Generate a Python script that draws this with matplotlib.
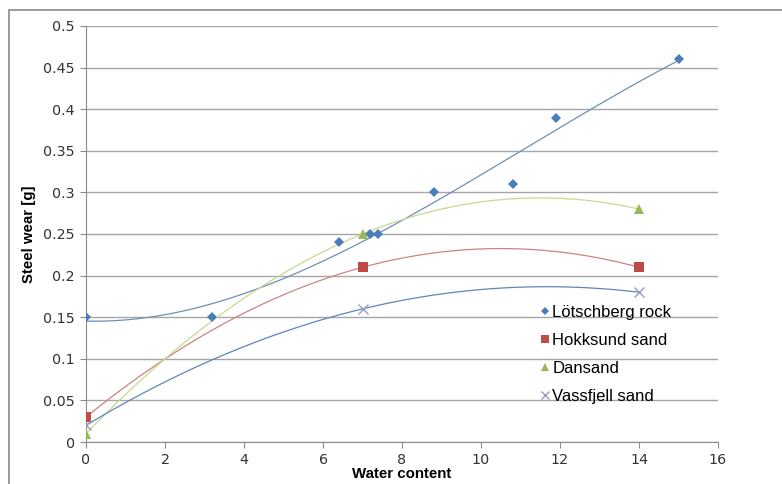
import numpy as np
import matplotlib.pyplot as plt
from matplotlib.patches import Rectangle

# measured steel wear vs water content
rock_x = [0, 3.2, 6.4, 7.2, 7.4, 8.8, 10.8, 11.9, 15]
rock_y = [0.15, 0.15, 0.24, 0.25, 0.25, 0.30, 0.31, 0.39, 0.46]
hokk_x = [0, 7, 14]
hokk_y = [0.03, 0.21, 0.21]
dan_x = [0, 7, 14]
dan_y = [0.01, 0.25, 0.28]
vass_x = [0, 7, 14]
vass_y = [0.02, 0.16, 0.18]

names = ['Lötschberg rock', 'Hokksund sand', 'Dansand', 'Vassfjell sand']

fig = plt.figure(figsize=(7.82, 4.84), dpi=100)
ax = fig.add_axes([86/782, 1-442/484, 632/782, 416/484])

# outer chart border (runs off the right and bottom edge)
fig.patches.append(Rectangle((9/782, -0.1), 1.2, 1 - 10/484 + 0.1, transform=fig.transFigure,
                             fill=False, edgecolor='#8a8a8a', linewidth=1.2))

# x, y, marker, colour, size, trend colour, trend order
series = [
    (rock_x, rock_y, 'D', '#4a7ebb', 5, '#6f8fb3', 3),
    (hokk_x, hokk_y, 's', '#be4b48', 7, '#c98583', 2),
    (dan_x, dan_y, '^', '#98b954', 7, '#c9d88f', 2),
    (vass_x, vass_y, 'x', '#9a9ac4', 7, '#5d86b8', 2),
]

handles = []
for (xs, ys, mk, col, ms, tcol, order), name in zip(series, names):
    xs = np.array(xs); ys = np.array(ys)
    p = np.polyfit(xs, ys, order)
    xx = np.linspace(xs.min(), xs.max(), 200)
    ax.plot(xx, np.polyval(p, xx), color=tcol, linewidth=0.9, zorder=2)
    if mk == 'x':
        h = ax.plot(xs, ys, linestyle='none', marker=mk, color=col, markersize=ms,
                    markeredgewidth=1.0, label=name, zorder=3)[0]
    else:
        h = ax.plot(xs, ys, linestyle='none', marker=mk, color=col, markersize=ms,
                    markeredgewidth=0, label=name, zorder=3)[0]
    handles.append(h)

ax.set_xlim(0, 16)
ax.set_ylim(0, 0.5)
ax.set_xticks(np.arange(0, 17, 2))
ax.set_yticks(np.arange(0, 0.51, 0.05))
ax.set_yticklabels(['0', '0.05', '0.1', '0.15', '0.2', '0.25', '0.3', '0.35', '0.4', '0.45', '0.5'])
ax.grid(axis='y', color='#a6a6a6', linewidth=1.0)
ax.set_axisbelow(True)
for s in ['top', 'right']:
    ax.spines[s].set_visible(False)
for s in ['left', 'bottom']:
    ax.spines[s].set_color('#8a8a8a')
ax.tick_params(colors='#8a8a8a', labelcolor='#333333', labelsize=10.3, length=4, pad=4)
ax.margins(0)
for lab in ax.get_xticklabels() + ax.get_yticklabels():
    lab.set_fontfamily('DejaVu Sans')

ax.set_xlabel('Water content', fontsize=10.8, fontweight='bold', family='Liberation Sans', labelpad=0)
ax.set_ylabel('Steel wear [g]', fontsize=10.8, fontweight='bold', family='Liberation Sans', labelpad=5)

leg = ax.legend(handles=handles, loc='upper left', bbox_to_anchor=(0.709, 0.346),
                frameon=False, prop={'family': 'Liberation Sans', 'size': 12},
                handlelength=0.5, handletextpad=0.2, labelspacing=0.78, markerscale=0.85,
                borderaxespad=0)

fig.savefig('out.png', dpi=100)
